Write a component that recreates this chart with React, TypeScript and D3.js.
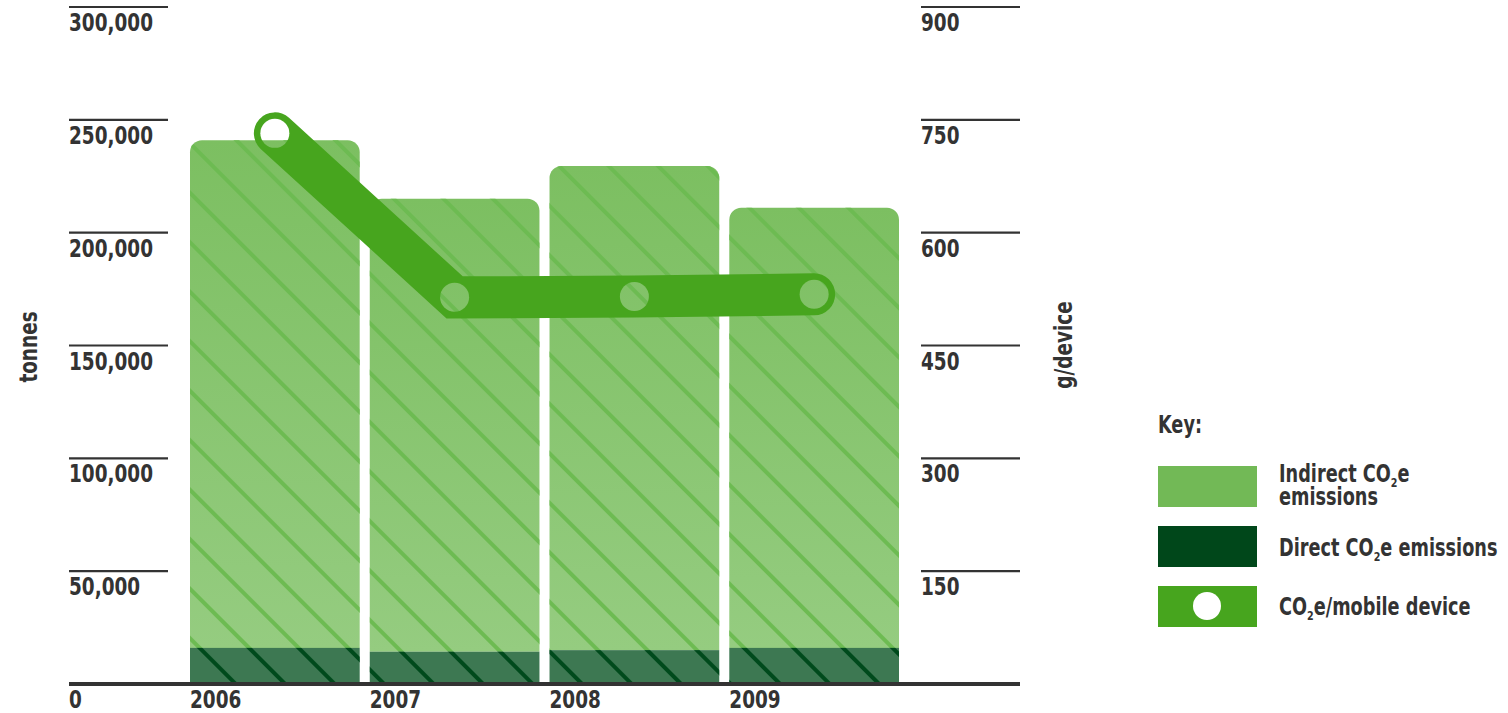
import React from "react";
import * as d3 from "d3";

const years = ["2006", "2007", "2008", "2009"];
const indirect = [225000, 200700, 214500, 195000];
const direct = [16000, 14300, 15000, 16000];
const perDevice = [732, 514, 515, 518];
const leftTicks = [0, 50000, 100000, 150000, 200000, 250000, 300000];
const rightTicks = [150, 300, 450, 600, 750, 900];

const W = 1508;
const H = 713;
const FONT = "'DejaVu Sans Condensed', 'DejaVu Sans', sans-serif";
const TXT = "#333333";
const SX = 0.82;

function T(props: { x: number; y: number; size?: number; rot?: number; anchor?: string; children: React.ReactNode }) {
  const { x, y, size = 25, rot = 0, anchor = "start", children } = props;
  return (
    <text
      transform={`translate(${x},${y}) rotate(${rot}) scale(${SX},1)`}
      fontSize={size}
      fontWeight="bold"
      fill={TXT}
      textAnchor={anchor}
    >
      {children}
    </text>
  );
}

export default function App() {
  const y = d3.scaleLinear().domain([0, 300000]).range([684, 7]);
  const y2 = d3.scaleLinear().domain([0, 900]).range([684, 7]);
  const x = d3.scaleBand<string>().domain(years).range([190, 899]).paddingInner(0.056).paddingOuter(0);
  const bw = x.bandwidth();
  const fmt = d3.format(",");
  const r = 12;

  const topPath = (i: number) => {
    const x0 = x(years[i])!;
    const x1 = x0 + bw;
    const yb = y(direct[i]);
    const yt = y(direct[i] + indirect[i]);
    const p = d3.path();
    p.moveTo(x0, yb);
    p.lineTo(x0, yt + r);
    p.arcTo(x0, yt, x0 + r, yt, r);
    p.lineTo(x1 - r, yt);
    p.arcTo(x1, yt, x1, yt + r, r);
    p.lineTo(x1, yb);
    p.closePath();
    return p.toString();
  };

  const pts: [number, number][] = years.map((yr, i) => [x(yr)! + bw / 2, y2(perDevice[i])]);
  const lineD = d3.line()(pts) || "";

  return (
    <svg width={W} height={H} style={{ position: "absolute", left: 0, top: 0, background: "#fff" }} fontFamily={FONT}>
      <defs>
        <linearGradient id="gInd" x1="0" y1="0" x2="0" y2="1">
          <stop offset="0" stopColor="#7cbf61" />
          <stop offset="1" stopColor="#95cc80" />
        </linearGradient>
        <pattern id="stLight" width={35} height={35} patternUnits="userSpaceOnUse" patternTransform="rotate(45)">
          <rect x={0} y={0} width={35} height={4} fill="#6dbb52" />
        </pattern>
        <pattern id="stDark" width={35} height={35} patternUnits="userSpaceOnUse" patternTransform="rotate(45)">
          <rect x={0} y={0} width={35} height={4} fill="#004a1c" />
        </pattern>
        <mask id="holes" maskUnits="userSpaceOnUse" x={0} y={0} width={W} height={H}>
          <rect x={0} y={0} width={W} height={H} fill="#fff" />
          {pts.map((p, i) => (
            <circle key={i} cx={p[0]} cy={p[1]} r={14.5} fill="#000" />
          ))}
        </mask>
      </defs>

      {/* left ticks */}
      {leftTicks.map((t) => (
        <g key={"l" + t}>
          {t > 0 && <line x1={69} x2={168} y1={y(t)} y2={y(t)} stroke={TXT} strokeWidth={2.2} />}
          <T x={69} y={y(t) + 24}>{fmt(t)}</T>
        </g>
      ))}
      {/* right ticks */}
      {rightTicks.map((t) => (
        <g key={"r" + t}>
          <line x1={921} x2={1020} y1={y2(t)} y2={y2(t)} stroke={TXT} strokeWidth={2.2} />
          <T x={921} y={y2(t) + 24}>{t}</T>
        </g>
      ))}

      {/* bars */}
      {years.map((yr, i) => {
        const x0 = x(yr)!;
        const yb = y(direct[i]);
        return (
          <g key={yr}>
            <path d={topPath(i)} fill="url(#gInd)" />
            <path d={topPath(i)} fill="url(#stLight)" />
            <rect x={x0} y={yb} width={bw} height={y(0) - yb} fill="#3d7852" />
            <rect x={x0} y={yb} width={bw} height={y(0) - yb} fill="url(#stDark)" />
            <T x={x0} y={708}>{yr}</T>
          </g>
        );
      })}

      {/* baseline */}
      <line x1={69} x2={1020} y1={684} y2={684} stroke={TXT} strokeWidth={4} />

      {/* per-device line */}
      <path
        d={lineD}
        fill="none"
        stroke="#47a51e"
        strokeWidth={42}
        strokeLinecap="round"
        strokeLinejoin="miter"
        mask="url(#holes)"
      />

      {/* axis titles */}
      <T x={37} y={347} rot={-90} anchor="middle">tonnes</T>
      <T x={1072} y={345} rot={-90} anchor="middle">g/device</T>

      {/* legend */}
      <T x={1158} y={433} size={24}>Key:</T>
      <rect x={1158} y={466} width={99} height={41} fill="#72b956" />
      <rect x={1158} y={526} width={99} height={41} fill="#00471a" />
      <rect x={1158} y={586} width={99} height={41} fill="#47a51e" />
      <circle cx={1207} cy={606} r={14} fill="#fff" />
      <T x={1279} y={482} size={24}>
        Indirect CO<tspan fontSize={13} dy={5}>2</tspan>
        <tspan dy={-5}>e</tspan>
      </T>
      <T x={1279} y={505} size={24}>emissions</T>
      <T x={1279} y={556} size={24}>
        Direct CO<tspan fontSize={13} dy={5}>2</tspan>
        <tspan dy={-5}>e emissions</tspan>
      </T>
      <T x={1279} y={615} size={24}>
        CO<tspan fontSize={13} dy={5}>2</tspan>
        <tspan dy={-5}>e/mobile device</tspan>
      </T>
    </svg>
  );
}
